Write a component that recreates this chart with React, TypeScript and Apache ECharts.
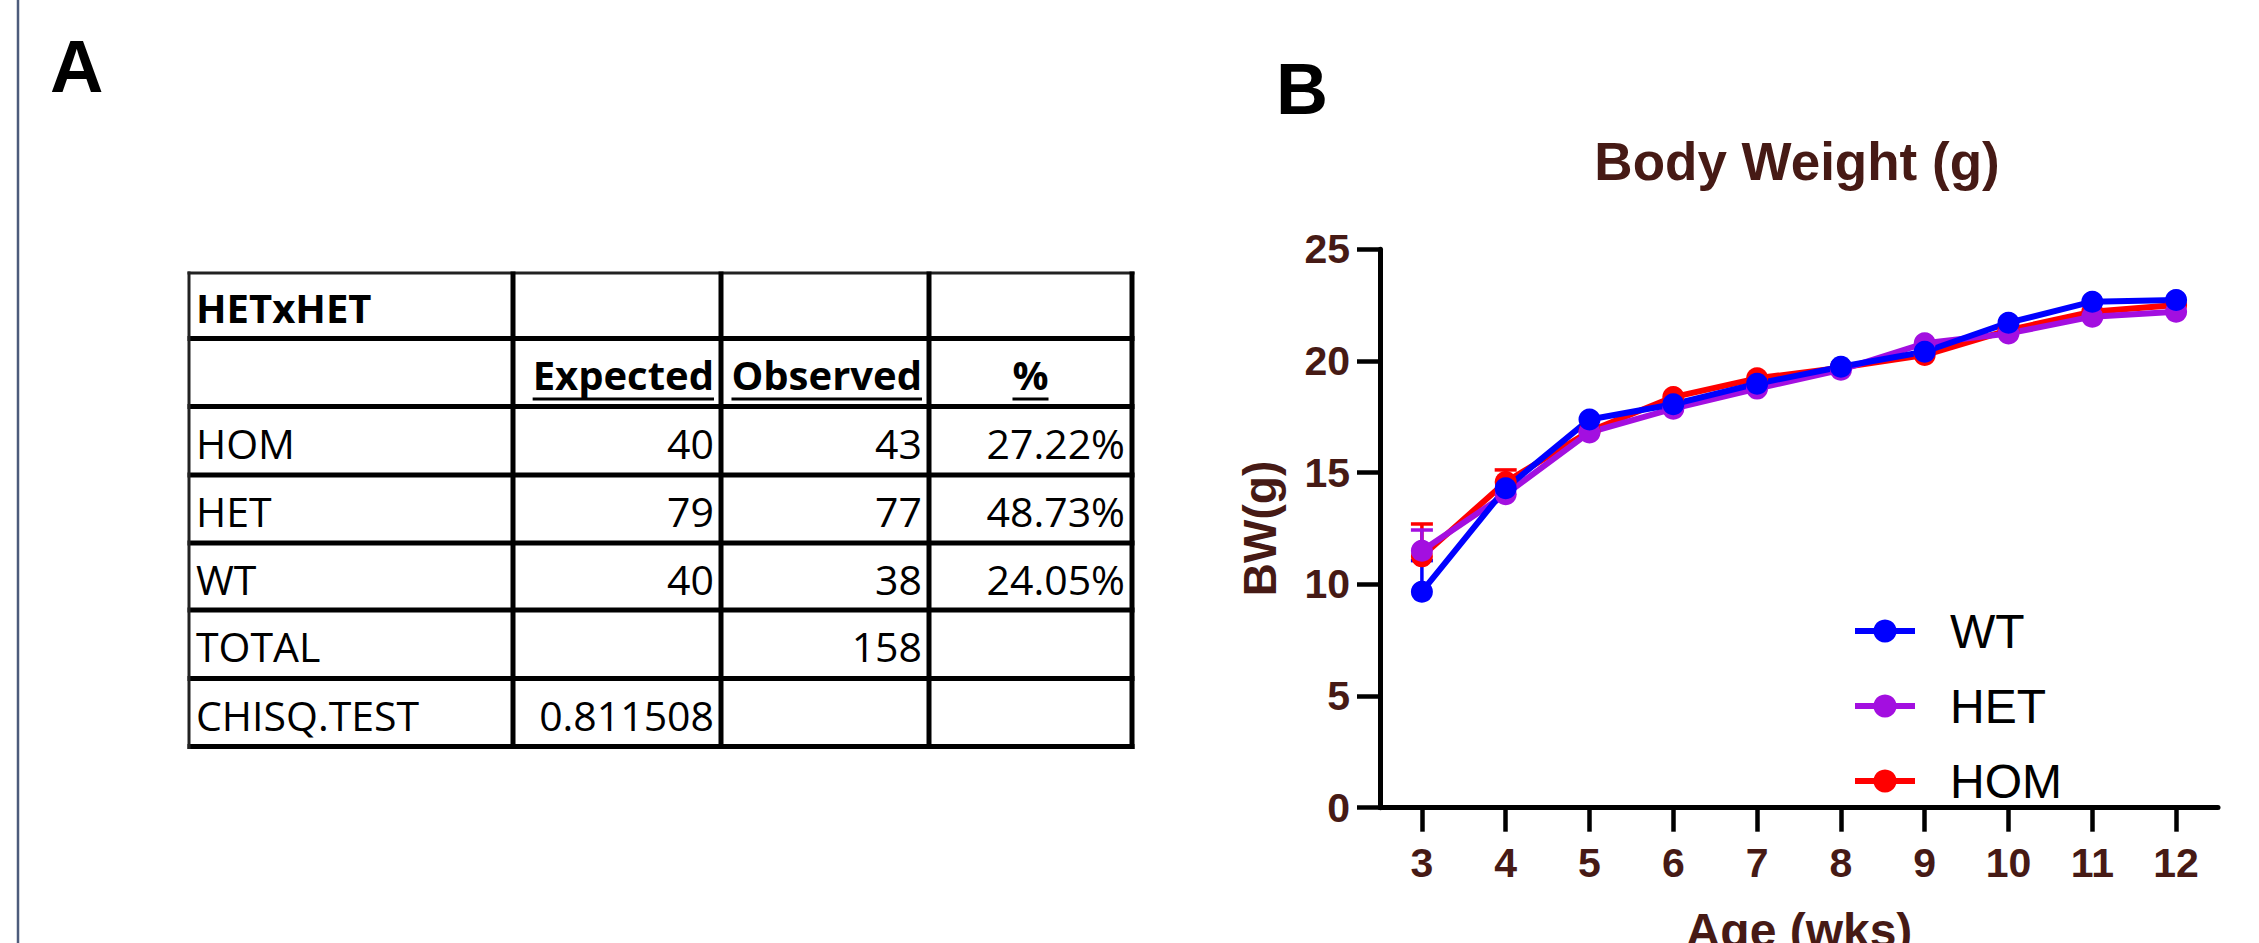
import React, { useEffect, useRef } from "react";
import * as echarts from "echarts";

// ---------- Panel B data ----------
const weeks = [3, 4, 5, 6, 7, 8, 9, 10, 11, 12];
const wtMean = [9.67, 14.3, 17.38, 18.06, 18.98, 19.74, 20.41, 21.71, 22.65, 22.73];
const hetMean = [11.5, 14.03, 16.8, 17.86, 18.76, 19.6, 20.79, 21.23, 21.98, 22.2];
const homMean = [11.25, 14.58, 16.85, 18.38, 19.22, 19.7, 20.26, 21.38, 22.2, 22.5];
const wtSem = [1.39, 0.35, 0.3, 0.3, 0.3, 0.3, 0.3, 0.3, 0.3, 0.3];
const hetSem = [0.93, 0.4, 0.3, 0.3, 0.3, 0.3, 0.3, 0.3, 0.3, 0.3];
const homSem = [1.45, 0.54, 0.35, 0.3, 0.3, 0.3, 0.3, 0.3, 0.3, 0.3];
const yTicks = [0, 5, 10, 15, 20, 25];

// ---------- Panel A data ----------
const tableTitle = "HETxHET";
const tableColumns = ["Expected", "Observed", "%"];
const genotypes = ["HOM", "HET", "WT"];
const expectedCounts = [40, 79, 40];
const observedCounts = [43, 77, 38];
const observedPercent = ["27.22%", "48.73%", "24.05%"];
const totalLabel = "TOTAL";
const totalObserved = 158;
const testLabel = "CHISQ.TEST";
const chisqP = 0.811508;

// ---------- layout ----------
const BROWN = "#461a15";
const SANS = "'Liberation Sans', Arial, Helvetica, sans-serif";
const TABLE_FONT = "'Open Sans', 'Liberation Sans', sans-serif";
const colEdges = [189, 513, 721, 929, 1132];
const rowEdges = [273, 338.5, 406.5, 475, 543, 610, 678.5, 746.5];
const GRID = { left: 1380, top: 249.2, width: 838, height: 558.5 };
const MARKER = 22;

function measure(text: string, font: string): number {
  const c = document.createElement("canvas").getContext("2d");
  if (!c) return text.length * 20;
  c.font = font;
  return c.measureText(text).width;
}

function buildTable(): any[] {
  const rows: string[][] = [
    [tableTitle, "", "", ""],
    ["", ...tableColumns],
  ];
  genotypes.forEach((g, i) => {
    rows.push([g, String(expectedCounts[i]), String(observedCounts[i]), observedPercent[i]]);
  });
  rows.push([totalLabel, "", String(totalObserved), ""]);
  rows.push([testLabel, String(chisqP), "", ""]);

  const els: any[] = [];
  const pad = 7;
  rows.forEach((row, r) => {
    const yc = (rowEdges[r] + rowEdges[r + 1]) / 2 + 2;
    row.forEach((txt, c) => {
      if (!txt) return;
      const bold = r === 0 || r === 1;
      const fontSize = bold ? 40 : 41;
      let align: "left" | "right" | "center" = c === 0 ? "left" : "right";
      let x = c === 0 ? colEdges[c] + pad : colEdges[c + 1] - pad;
      if (r === 1 && c === 3) {
        align = "center";
        x = (colEdges[c] + colEdges[c + 1]) / 2;
      }
      els.push({
        type: "text",
        x,
        y: yc,
        silent: true,
        style: {
          text: txt,
          fontSize,
          fontWeight: bold ? "bold" : "normal",
          fontFamily: TABLE_FONT,
          fill: "#000",
          align,
          textAlign: align,
          verticalAlign: "middle",
          textVerticalAlign: "middle",
        },
      });
      if (r === 1) {
        const w = measure(txt, `bold ${fontSize}px 'Open Sans', 'Liberation Sans', sans-serif`);
        const x0 = align === "right" ? x - w : align === "center" ? x - w / 2 : x;
        els.push({
          type: "line",
          silent: true,
          shape: { x1: x0, y1: yc + 24.5, x2: x0 + w, y2: yc + 24.5 },
          style: { stroke: "#000", lineWidth: 3 },
        });
      }
    });
  });
  rowEdges.forEach((y, i) => {
    els.push({
      type: "line",
      silent: true,
      shape: { x1: colEdges[0] - 1.5, y1: y, x2: colEdges[4] + 2.5, y2: y },
      style: { stroke: i === 0 ? "#222" : "#000", lineWidth: i === 0 ? 3 : 5 },
    });
  });
  colEdges.forEach((x, i) => {
    els.push({
      type: "line",
      silent: true,
      shape: { x1: x, y1: rowEdges[0] - 1.5, x2: x, y2: rowEdges[rowEdges.length - 1] + 2.5 },
      style: { stroke: i === 0 ? "#222" : "#000", lineWidth: i === 0 ? 3 : 5 },
    });
  });
  return els;
}

function errSeries(name: string, color: string, mean: number[], sem: number[]) {
  return {
    type: "custom",
    name: name + " SEM",
    silent: true,
    encode: { x: 0, y: 1 },
    data: weeks.map((w, i) => [w, mean[i], sem[i]]),
    renderItem: (params: any, api: any) => {
      const x = api.value(0);
      const m = api.value(1);
      const s = api.value(2);
      const p0 = api.coord([x, m]);
      const p1 = api.coord([x, m + s]);
      if (p0[1] - p1[1] < MARKER / 2 + 0.5) return null;
      return {
        type: "group",
        children: [
          {
            type: "line",
            shape: { x1: p0[0], y1: p0[1], x2: p1[0], y2: p1[1] },
            style: { stroke: color, lineWidth: 3.5 },
          },
          {
            type: "line",
            shape: { x1: p1[0] - 11, y1: p1[1], x2: p1[0] + 11, y2: p1[1] },
            style: { stroke: color, lineWidth: 3.5 },
          },
        ],
      };
    },
  };
}

function lineSeries(name: string, color: string, mean: number[]) {
  return {
    type: "line",
    name,
    silent: true,
    data: weeks.map((w, i) => [w, mean[i]]),
    symbol: "circle",
    symbolSize: MARKER,
    showAllSymbol: true,
    lineStyle: { color, width: 6 },
    itemStyle: { color },
    emphasis: { disabled: true },
  };
}

export default function App() {
  const ref = useRef<HTMLDivElement>(null);
  useEffect(() => {
    document.body.style.margin = "0";
    const chart = echarts.init(ref.current as HTMLDivElement, null, { renderer: "svg" });
    const axisLabelStyle = { color: BROWN, fontSize: 41, fontWeight: "bold", fontFamily: SANS };
    const option: any = {
      animation: false,
      backgroundColor: "#fff",
      title: {
        text: "Body Weight (g)",
        left: 1797,
        top: 135,
        padding: 0,
        textAlign: "center",
        textStyle: { color: BROWN, fontSize: 53, fontWeight: "bold", fontFamily: SANS },
      },
      legend: {
        data: ["WT", "HET", "HOM"],
        orient: "vertical",
        left: 1852,
        top: 607,
        padding: 0,
        itemWidth: 60,
        itemHeight: 29,
        itemGap: 27,
        selectedMode: false,
        lineStyle: { width: 6 },
        textStyle: {
          color: "#000",
          fontSize: 48,
          lineHeight: 48,
          fontFamily: SANS,
          padding: [0, 0, 0, 30],
        },
      },
      grid: {
        left: GRID.left,
        top: GRID.top,
        width: GRID.width,
        height: GRID.height,
        containLabel: false,
        outerBoundsMode: "none",
      },
      xAxis: {
        type: "value",
        min: 2.5,
        max: 12.5,
        name: "Age (wks)",
        nameLocation: "middle",
        nameGap: 99,
        nameTextStyle: { color: BROWN, fontSize: 48, fontWeight: "bold", fontFamily: SANS },
        axisLine: { show: true, onZero: false, lineStyle: { color: "#000", width: 5 } },
        axisTick: { show: true, customValues: weeks, length: 24, lineStyle: { color: "#000", width: 4.5 } },
        axisLabel: { ...axisLabelStyle, customValues: weeks, margin: 35 },
        splitLine: { show: false },
      },
      yAxis: {
        type: "value",
        min: 0,
        max: 25,
        interval: 5,
        name: "BW(g)",
        nameLocation: "middle",
        nameGap: 97,
        nameTextStyle: { color: BROWN, fontSize: 46, fontWeight: "bold", fontFamily: SANS },
        axisLine: { show: true, lineStyle: { color: "#000", width: 5 } },
        axisTick: { show: true, customValues: yTicks, length: 23, lineStyle: { color: "#000", width: 4.5 } },
        axisLabel: { ...axisLabelStyle, margin: 30 },
        splitLine: { show: false },
      },
      graphic: [
        {
          type: "line",
          silent: true,
          shape: { x1: 18, y1: 0, x2: 18, y2: 943 },
          style: { stroke: "#4d5c7c", lineWidth: 2.5 },
        },
        {
          type: "text",
          x: 50,
          y: 66,
          silent: true,
          style: {
            text: "A",
            fontSize: 74,
            fontWeight: "bold",
            fontFamily: SANS,
            fill: "#000",
            verticalAlign: "middle",
            textVerticalAlign: "middle",
          },
        },
        {
          type: "text",
          x: 1276,
          y: 89,
          silent: true,
          style: {
            text: "B",
            fontSize: 72,
            fontWeight: "bold",
            fontFamily: SANS,
            fill: "#000",
            verticalAlign: "middle",
            textVerticalAlign: "middle",
          },
        },
        ...buildTable(),
      ],
      series: [
        errSeries("HOM", "#ff0000", homMean, homSem),
        lineSeries("HOM", "#ff0000", homMean),
        errSeries("HET", "#a30fe0", hetMean, hetSem),
        lineSeries("HET", "#a30fe0", hetMean),
        errSeries("WT", "#0000ff", wtMean, wtSem),
        lineSeries("WT", "#0000ff", wtMean),
      ],
    };
    chart.setOption(option);
    return () => chart.dispose();
  }, []);
  return <div ref={ref} style={{ width: 2259, height: 943 }} />;
}
